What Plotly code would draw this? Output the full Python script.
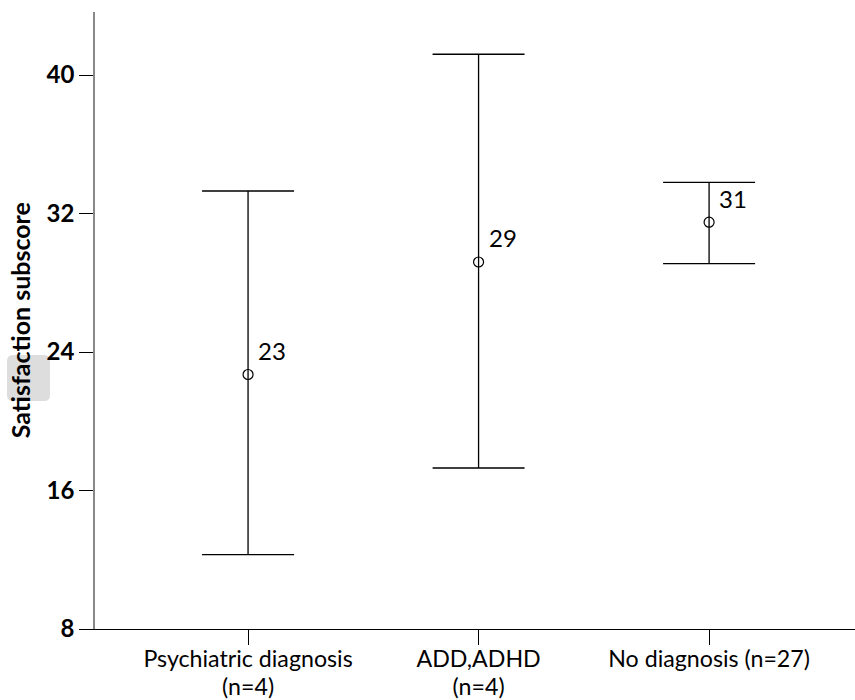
import plotly.graph_objects as go

categories = ["Psychiatric diagnosis<br>(n=4)", "ADD,ADHD<br>(n=4)", "No diagnosis (n=27)"]
means = [22.7, 29.2, 31.5]
upper = [33.3, 41.2, 33.8]
lower = [12.3, 17.3, 29.1]
mean_labels = ["23", "29", "31"]
y_ticks = [8, 16, 24, 32, 40]

x_idx = list(range(len(categories)))
err_plus = [u - m for u, m in zip(upper, means)]
err_minus = [m - l for m, l in zip(means, lower)]

FONT = "Lato"

# larger glyphs than the base font -> tighter line spacing like the reference
tick_text = ["<br>".join(f'<span style="font-size:23.2px">{ln}</span>' for ln in c.split("<br>"))
             for c in categories]

fig = go.Figure()
fig.add_trace(go.Scatter(
    x=x_idx, y=means, mode="markers",
    marker=dict(symbol="circle-open", size=10, color="black", line=dict(width=1.2, color="black")),
    error_y=dict(type="data", symmetric=False, array=err_plus, arrayminus=err_minus,
                 color="black", thickness=1.3, width=46),
    showlegend=False, hoverinfo="skip",
))

for xi, m, lab in zip(x_idx, means, mean_labels):
    fig.add_annotation(x=xi, y=m, text=lab, showarrow=False, xanchor="left", yanchor="middle",
                       xshift=8, yshift=24, font=dict(family=FONT, size=24, color="black"))

# y-axis title
fig.add_annotation(xref="paper", yref="paper", x=-0.099, y=0.5, text="Satisfaction subscore",
                   textangle=-90, showarrow=False, xanchor="center", yanchor="middle",
                   font=dict(family=FONT, size=25, color="black", weight="bold"))

# grey rounded highlight
x0, x1 = (7 - 95) / 760, (50 - 95) / 760
y0, y1 = (629 - 401) / 617, (629 - 355) / 617
rx, ry = 6 / 760, 6 / 617
path = (f"M {x0+rx},{y0} L {x1-rx},{y0} Q {x1},{y0} {x1},{y0+ry} L {x1},{y1-ry} Q {x1},{y1} {x1-rx},{y1} "
        f"L {x0+rx},{y1} Q {x0},{y1} {x0},{y1-ry} L {x0},{y0+ry} Q {x0},{y0} {x0+rx},{y0} Z")
fig.add_shape(type="path", path=path, xref="paper", yref="paper",
              fillcolor="#dddddd", line=dict(width=0), layer="below")

fig.update_layout(
    width=855, height=700,
    margin=dict(l=95, r=0, t=12, b=71),
    plot_bgcolor="white", paper_bgcolor="white",
    font=dict(family=FONT, color="black"),
    xaxis=dict(range=[-0.664, 2.633], tickvals=x_idx, ticktext=tick_text,
               automargin=False, ticklabelstandoff=-4,
               showgrid=False, zeroline=False, showline=True, linecolor="black", linewidth=1,
               ticks="outside", ticklen=15, tickcolor="black", tickwidth=1.3,
               tickfont=dict(family=FONT, size=21.5, color="black")),
    yaxis=dict(range=[8, 43.64], tickvals=y_ticks, automargin=False,
               showgrid=False, zeroline=False, showline=True, linecolor="#888888", linewidth=1.5,
               ticks="outside", ticklen=14, tickcolor="black", tickwidth=1.3,
               tickfont=dict(family=FONT, size=24, color="black", weight="bold")),
)

fig.write_html("out.html")
